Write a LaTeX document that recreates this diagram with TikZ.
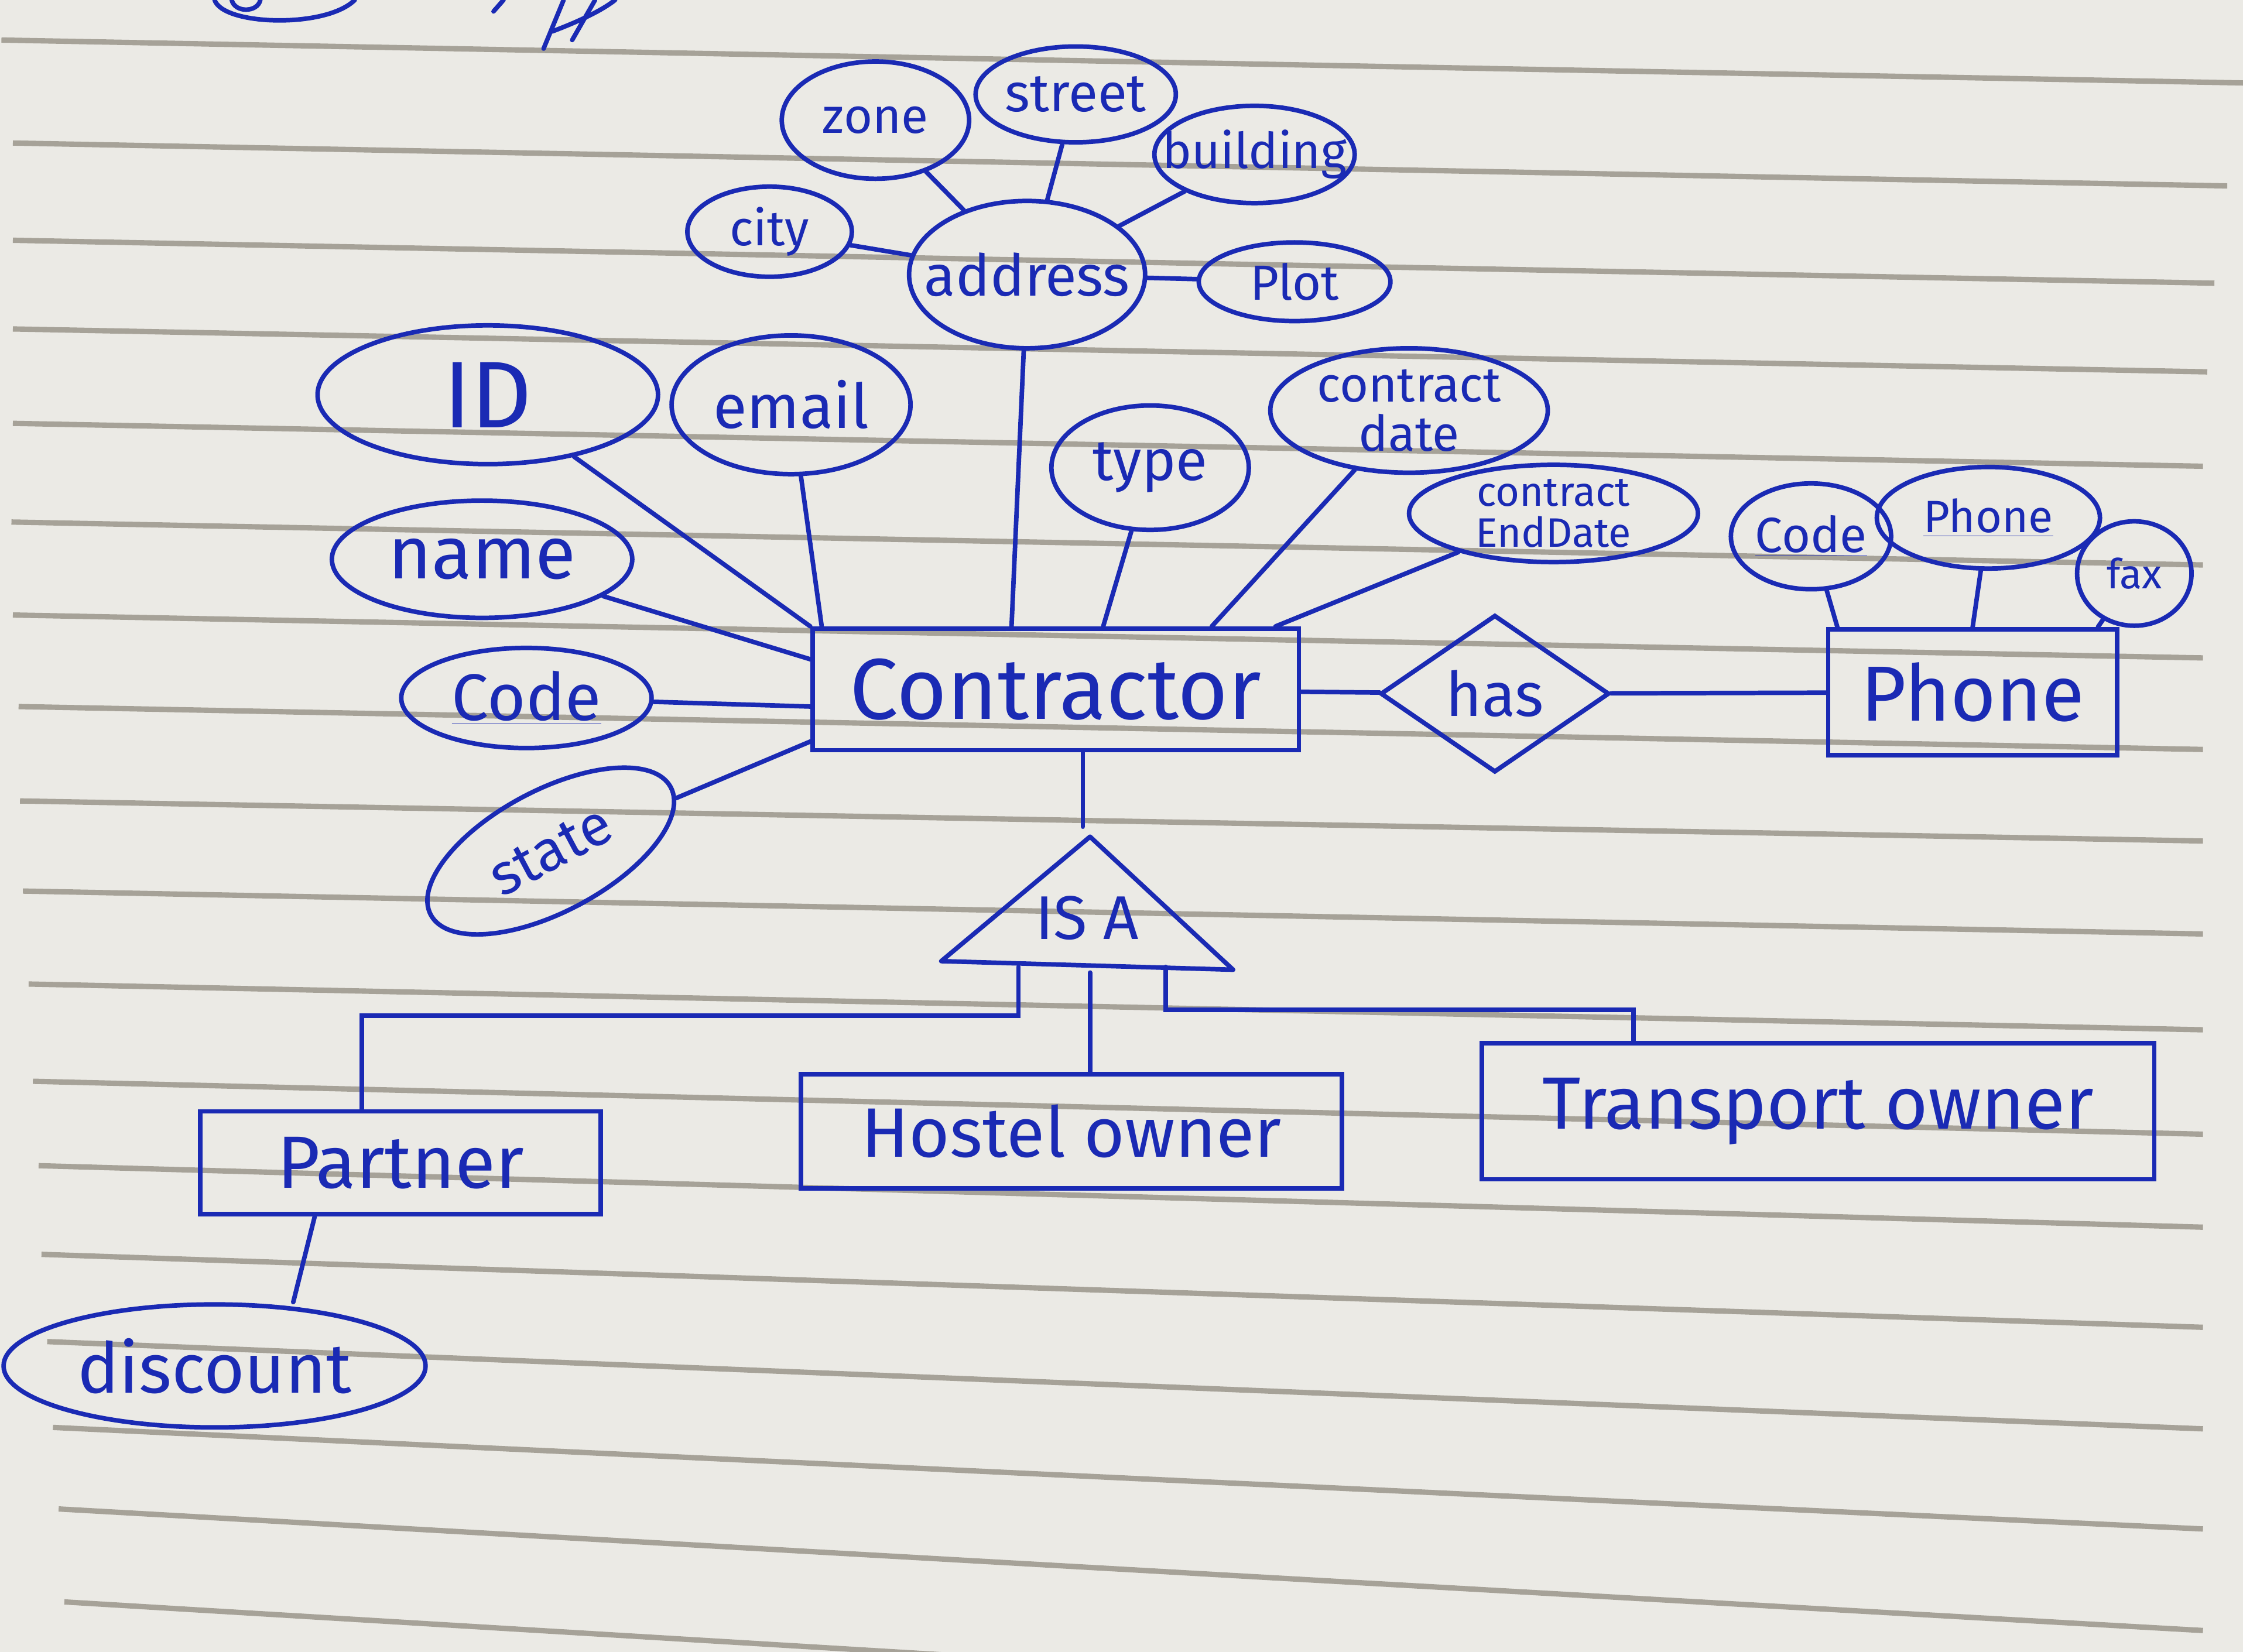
\documentclass[tikz,border=0pt]{standalone}
\usepackage{fontspec}
\setmainfont{Fira Sans}
\usetikzlibrary{shapes.geometric,calc}

\definecolor{pen}{RGB}{26,42,180}
\definecolor{paper}{RGB}{235,234,229}
\definecolor{ruling}{RGB}{166,162,152}
\newcommand{\px}{0.02443cm}
\newcommand{\fs}[1]{\fontsize{#1}{#1}\selectfont}
\tikzstyle{attr}=[ellipse, draw=pen, line width=2.2pt, text=pen, inner sep=-1cm, align=center]
\tikzstyle{entity}=[rectangle, draw=pen, line width=2.2pt, text=pen, inner sep=-1cm]
\tikzstyle{rel}=[diamond, draw=pen, line width=2.2pt, text=pen, inner sep=0pt, aspect=1.45]
\tikzstyle{penline}=[draw=pen, line width=2.2pt, line cap=round]
\newcommand{\attr}{\node[attr]}
\newcommand{\entity}{\node[entity]}

\begin{document}
\begin{tikzpicture}[x=\px, y=-\px
    ,every edge/.style={penline}
]
\useasboundingbox (0,0) rectangle (1568,1155);
\fill[paper] (0,0) rectangle (1568,1155);
% ruled paper
\draw[ruling, line width=2.6pt]
(1,28) -- (1568,58)
(9,100) -- (1557,130)
(9,168) -- (1548,198)
(9,230) -- (1543,260)
(9,296) -- (1540,326)
(8,365) -- (1540,395)
(9,430) -- (1540,460)
(13,494) -- (1540,524)
(14,560) -- (1540,588)
(16,623) -- (1540,653)
(20,688) -- (1540,720)
(23,756) -- (1540,793)
(27,815) -- (1540,858)
(29,877) -- (1540,928)
(33,938) -- (1540,999)
(37,998) -- (1540,1069)
(41,1055) -- (1540,1140)
(45,1120) -- (1540,1210);
% scribbles cut off at the top
\draw[penline] (150,0) .. controls (156,18) and (228,20) .. (248,0);
\draw[penline] (162,0) .. controls (164,9) and (180,9) .. (182,0);
\draw[penline] (345,8) -- (352,0);
\draw[penline] (380,34) -- (394,0);
\draw[penline] (386,22) .. controls (402,16) and (420,8) .. (430,0);
\draw[penline] (400,28) -- (416,0);

% entities
\entity[minimum width=340*\px, minimum height=85*\px, font={\fs{42pt}}] (contractor) at (738,482) {Contractor};
\node[rel, minimum width=160*\px, minimum height=110*\px, font={\fs{30pt}}] (has) at (1045,485) {has};
\entity[minimum width=202*\px, minimum height=88*\px, font={\fs{38pt}}] (phone) at (1379,484) {Phone};
\entity[minimum width=280*\px, minimum height=72*\px, font={\fs{36pt}}] (partner) at (280,813) {Partner};
\entity[minimum width=378*\px, minimum height=80*\px, font={\fs{34pt}}] (hostel) at (749,791) {Hostel owner};
\entity[minimum width=470*\px, minimum height=95*\px, font={\fs{36pt}}] (transport) at (1271,777) {Transport owner};

% attributes
\attr[minimum width=238*\px, minimum height=97*\px, font={\fs{46pt}}] (id) at (341,276) {ID};
\attr[minimum width=210*\px, minimum height=82*\px, font={\fs{36pt}}] (name) at (337,391) {name};
\attr[minimum width=175*\px, minimum height=70*\px, font={\fs{32pt}}] (code) at (368,488) {\underline{Code}};
\attr[minimum width=190*\px, minimum height=85*\px, rotate=28, font={\fs{28pt}}] (state) at (385,595) {state};
\attr[minimum width=167*\px, minimum height=97*\px, font={\fs{30pt}}] (email) at (553,283) {email};
\attr[minimum width=165*\px, minimum height=103*\px, font={\fs{28pt}}] (address) at (718,192) {address};
\attr[minimum width=131*\px, minimum height=82*\px, font={\fs{24pt}}] (zone) at (612,84) {zone};
\attr[minimum width=140*\px, minimum height=67*\px, font={\fs{26pt}}] (street) at (752,66) {street};
\attr[minimum width=140*\px, minimum height=68*\px, font={\fs{24pt}}] (building) at (877,108) {building};
\attr[minimum width=115*\px, minimum height=63*\px, font={\fs{24pt}}] (city) at (538,162) {city};
\attr[minimum width=134*\px, minimum height=55*\px, font={\fs{24pt}}] (plot) at (905,197) {Plot};
\attr[minimum width=138*\px, minimum height=87*\px, font={\fs{28pt}}] (type) at (804,327) {type};
\attr[minimum width=194*\px, minimum height=87*\px, font={\fs{24pt}}] (cdate) at (985,287) {contract\\date};
\attr[minimum width=202*\px, minimum height=68*\px, font={\fs{20pt}}] (cend) at (1086,359) {contract\\EndDate};
\attr[minimum width=112*\px, minimum height=74*\px, font={\fs{24pt}}] (pcode) at (1266,375) {\underline{Code}};
\attr[minimum width=156*\px, minimum height=71*\px, font={\fs{22pt}}] (pnumber) at (1390,362) {\underline{Phone}};
\attr[minimum width=80*\px, minimum height=73*\px, font={\fs{20pt}}] (fax) at (1492,401) {fax};
\attr[minimum width=295*\px, minimum height=86*\px, font={\fs{34pt}}] (discount) at (150,955) {discount};

% IS A triangle
\coordinate (isatop) at (762,585);
\coordinate (isaleft) at (658,672);
\coordinate (isaright) at (862,678);
\draw[penline, line join=round] (isatop) -- (isaleft) -- (isaright) -- cycle;
\node[text=pen, font={\fs{30pt}}] (isa) at (760,642) {IS A};
\coordinate (isain) at (757,578);
\coordinate (isa1) at (712,676);
\coordinate (isa2) at (762,680);
\coordinate (isa3) at (815,676);
\coordinate (pbend) at (253,710);
\coordinate (tbend) at (1142,706);

\path
(id) edge (contractor.north west)
(email) edge ($(contractor.north west)+(8,0)$)
(name) edge (contractor.173)
(code) edge (contractor.184)
(state) edge (contractor.192)
(address) edge (contractor.125)
(type) edge (contractor.53)
(cdate) edge (contractor.22)
(cend) edge (contractor.16)
(zone) edge (address)
(street) edge (address)
(building) edge (address)
(city) edge (address)
(plot) edge (address)
(contractor) edge (has)
(has) edge (phone)
(pcode) edge ($(phone.north west)+(8,0)$)
(pnumber) edge (phone.north)
(fax) edge ($(phone.north east)+(-15,0)$)
(contractor.south -| isain) edge (isain)
(isa2) edge (isa2 |- hostel.north)
($(partner.south)+(-60,0)$) edge ($(discount.north)+(55,0)$)
;
\draw[penline] (isa1) |- (pbend) -- (pbend |- partner.north);
\draw[penline] (isa3) |- (tbend) -- (tbend |- transport.north);
\end{tikzpicture}
\end{document}
